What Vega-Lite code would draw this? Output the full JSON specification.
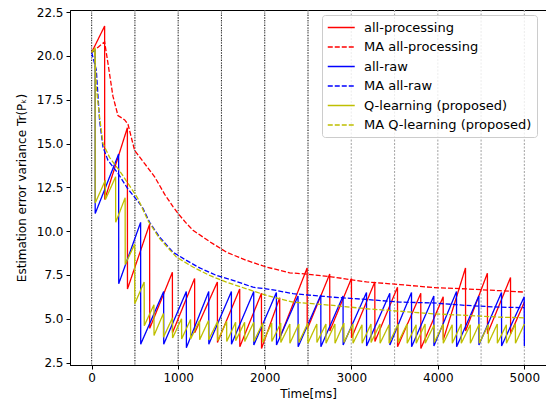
{
  "$schema": "https://vega.github.io/schema/vega-lite/v6.json",
  "width": 476,
  "height": 355,
  "autosize": {"type": "none"},
  "padding": {"left": 70, "top": 10, "right": 0, "bottom": 40},
  "config": {
    "font": "DejaVu Sans",
    "view": {"stroke": "black", "strokeWidth": 1},
    "axis": {"labelFont": "DejaVu Sans", "labelFontSize": 12, "labelColor": "black", "titleFont": "DejaVu Sans", "titleFontSize": 12, "titleColor": "black", "titleFontWeight": "normal", "domainColor": "black", "tickColor": "black", "tickSize": 4, "grid": false, "labelPadding": 3},
    "legend": {"orient": "none", "legendX": 252, "legendY": 5, "symbolType": "M-1,0H3", "symbolSize": 182, "symbolStrokeWidth": 1.5, "labelFont": "DejaVu Sans", "labelFontSize": 13, "labelColor": "black", "labelOffset": 22, "padding": 5, "rowPadding": 4.5, "fillColor": "rgba(255,255,255,0.8)", "strokeColor": "#cccccc", "cornerRadius": 3, "labelLimit": 300}
  },
  "datasets": {
    "vlines": [
      {"t": 0, "style": "black"}, {"t": 500, "style": "black"}, {"t": 1000, "style": "black"}, {"t": 1500, "style": "black"}, {"t": 2000, "style": "black"}, {"t": 2500, "style": "black"},
      {"t": 3000, "style": "grey"}, {"t": 3500, "style": "grey"}, {"t": 4000, "style": "grey"}, {"t": 4500, "style": "grey"}, {"t": 5000, "style": "grey"}
    ],
    "lines": [
      {"series": "all-processing", "t": 0, "v": 20.2}, {"series": "all-processing", "t": 150, "v": 21.7}, {"series": "all-processing", "t": 151, "v": 11.8},
      {"series": "all-processing", "t": 413, "v": 15.9}, {"series": "all-processing", "t": 414, "v": 6.7},
      {"series": "all-processing", "t": 670, "v": 10.4}, {"series": "all-processing", "t": 671, "v": 4.45},
      {"series": "all-processing", "t": 933, "v": 7.65}, {"series": "all-processing", "t": 934, "v": 4.2},
      {"series": "all-processing", "t": 1190, "v": 7.3}, {"series": "all-processing", "t": 1191, "v": 4.2},
      {"series": "all-processing", "t": 1453, "v": 7.1}, {"series": "all-processing", "t": 1454, "v": 3.65},
      {"series": "all-processing", "t": 1711, "v": 6.7}, {"series": "all-processing", "t": 1712, "v": 3.4},
      {"series": "all-processing", "t": 1962, "v": 6.45}, {"series": "all-processing", "t": 1963, "v": 3.3},
      {"series": "all-processing", "t": 2173, "v": 6.2}, {"series": "all-processing", "t": 2174, "v": 3.9},
      {"series": "all-processing", "t": 2490, "v": 7.9}, {"series": "all-processing", "t": 2491, "v": 4.4},
      {"series": "all-processing", "t": 2751, "v": 7.55}, {"series": "all-processing", "t": 2752, "v": 4.3},
      {"series": "all-processing", "t": 3002, "v": 7.3}, {"series": "all-processing", "t": 3003, "v": 3.9},
      {"series": "all-processing", "t": 3272, "v": 7.1}, {"series": "all-processing", "t": 3273, "v": 3.7},
      {"series": "all-processing", "t": 3534, "v": 6.8}, {"series": "all-processing", "t": 3535, "v": 3.4},
      {"series": "all-processing", "t": 3803, "v": 6.45}, {"series": "all-processing", "t": 3804, "v": 3.3},
      {"series": "all-processing", "t": 4062, "v": 6.25}, {"series": "all-processing", "t": 4063, "v": 3.8},
      {"series": "all-processing", "t": 4320, "v": 7.9}, {"series": "all-processing", "t": 4321, "v": 4.3},
      {"series": "all-processing", "t": 4573, "v": 7.6}, {"series": "all-processing", "t": 4574, "v": 4.15},
      {"series": "all-processing", "t": 4840, "v": 7.35}, {"series": "all-processing", "t": 4841, "v": 4.15},
      {"series": "all-processing", "t": 5000, "v": 5.95},

      {"series": "MA all-processing", "t": 0, "v": 20.2}, {"series": "MA all-processing", "t": 75, "v": 20.5}, {"series": "MA all-processing", "t": 150, "v": 20.8},
      {"series": "MA all-processing", "t": 188, "v": 19.6}, {"series": "MA all-processing", "t": 246, "v": 17.7}, {"series": "MA all-processing", "t": 304, "v": 16.6},
      {"series": "MA all-processing", "t": 382, "v": 16.35}, {"series": "MA all-processing", "t": 420, "v": 16.1}, {"series": "MA all-processing", "t": 497, "v": 14.6},
      {"series": "MA all-processing", "t": 613, "v": 13.85}, {"series": "MA all-processing", "t": 728, "v": 13.1}, {"series": "MA all-processing", "t": 844, "v": 12.1},
      {"series": "MA all-processing", "t": 940, "v": 11.4}, {"series": "MA all-processing", "t": 1000, "v": 11.0}, {"series": "MA all-processing", "t": 1085, "v": 10.5},
      {"series": "MA all-processing", "t": 1171, "v": 10.05}, {"series": "MA all-processing", "t": 1364, "v": 9.4}, {"series": "MA all-processing", "t": 1557, "v": 8.8},
      {"series": "MA all-processing", "t": 1789, "v": 8.33}, {"series": "MA all-processing", "t": 2020, "v": 7.95}, {"series": "MA all-processing", "t": 2289, "v": 7.62},
      {"series": "MA all-processing", "t": 2482, "v": 7.55}, {"series": "MA all-processing", "t": 2790, "v": 7.38}, {"series": "MA all-processing", "t": 3176, "v": 7.1},
      {"series": "MA all-processing", "t": 3561, "v": 6.95}, {"series": "MA all-processing", "t": 3946, "v": 6.78}, {"series": "MA all-processing", "t": 4332, "v": 6.7},
      {"series": "MA all-processing", "t": 4717, "v": 6.6}, {"series": "MA all-processing", "t": 5000, "v": 6.52},

      {"series": "all-raw", "t": 0, "v": 20.2}, {"series": "all-raw", "t": 40, "v": 20.3}, {"series": "all-raw", "t": 41, "v": 11.0},
      {"series": "all-raw", "t": 312, "v": 14.4}, {"series": "all-raw", "t": 313, "v": 7.0},
      {"series": "all-raw", "t": 566, "v": 10.5}, {"series": "all-raw", "t": 567, "v": 3.55},
      {"series": "all-raw", "t": 832, "v": 6.55}, {"series": "all-raw", "t": 833, "v": 3.55},
      {"series": "all-raw", "t": 1094, "v": 6.55}, {"series": "all-raw", "t": 1095, "v": 3.35},
      {"series": "all-raw", "t": 1353, "v": 6.55}, {"series": "all-raw", "t": 1354, "v": 3.55},
      {"series": "all-raw", "t": 1615, "v": 6.55}, {"series": "all-raw", "t": 1616, "v": 3.55},
      {"series": "all-raw", "t": 1873, "v": 6.55}, {"series": "all-raw", "t": 1874, "v": 3.5},
      {"series": "all-raw", "t": 2135, "v": 6.5}, {"series": "all-raw", "t": 2136, "v": 3.5},
      {"series": "all-raw", "t": 2385, "v": 6.3}, {"series": "all-raw", "t": 2386, "v": 3.4},
      {"series": "all-raw", "t": 2648, "v": 6.35}, {"series": "all-raw", "t": 2649, "v": 3.4},
      {"series": "all-raw", "t": 2905, "v": 6.3}, {"series": "all-raw", "t": 2906, "v": 3.5},
      {"series": "all-raw", "t": 3176, "v": 6.5}, {"series": "all-raw", "t": 3177, "v": 3.45},
      {"series": "all-raw", "t": 3445, "v": 6.45}, {"series": "all-raw", "t": 3446, "v": 3.5},
      {"series": "all-raw", "t": 3696, "v": 6.5}, {"series": "all-raw", "t": 3697, "v": 3.4},
      {"series": "all-raw", "t": 3954, "v": 6.3}, {"series": "all-raw", "t": 3955, "v": 3.45},
      {"series": "all-raw", "t": 4216, "v": 6.55}, {"series": "all-raw", "t": 4217, "v": 3.4},
      {"series": "all-raw", "t": 4474, "v": 6.3}, {"series": "all-raw", "t": 4475, "v": 3.5},
      {"series": "all-raw", "t": 4736, "v": 6.5}, {"series": "all-raw", "t": 4737, "v": 3.45},
      {"series": "all-raw", "t": 4998, "v": 6.25}, {"series": "all-raw", "t": 5000, "v": 3.45},

      {"series": "MA all-raw", "t": 0, "v": 20.2}, {"series": "MA all-raw", "t": 54, "v": 19.2}, {"series": "MA all-raw", "t": 92, "v": 16.3},
      {"series": "MA all-raw", "t": 131, "v": 14.8}, {"series": "MA all-raw", "t": 188, "v": 14.05}, {"series": "MA all-raw", "t": 304, "v": 13.3},
      {"series": "MA all-raw", "t": 420, "v": 12.4}, {"series": "MA all-raw", "t": 535, "v": 11.7}, {"series": "MA all-raw", "t": 593, "v": 11.3},
      {"series": "MA all-raw", "t": 670, "v": 10.5}, {"series": "MA all-raw", "t": 786, "v": 9.66}, {"series": "MA all-raw", "t": 940, "v": 8.8},
      {"series": "MA all-raw", "t": 1095, "v": 8.33}, {"series": "MA all-raw", "t": 1249, "v": 7.9}, {"series": "MA all-raw", "t": 1442, "v": 7.47},
      {"series": "MA all-raw", "t": 1633, "v": 7.19}, {"series": "MA all-raw", "t": 1865, "v": 6.8}, {"series": "MA all-raw", "t": 2096, "v": 6.65},
      {"series": "MA all-raw", "t": 2327, "v": 6.43}, {"series": "MA all-raw", "t": 2790, "v": 6.23}, {"series": "MA all-raw", "t": 3176, "v": 6.1},
      {"series": "MA all-raw", "t": 3561, "v": 5.95}, {"series": "MA all-raw", "t": 3946, "v": 5.9}, {"series": "MA all-raw", "t": 4332, "v": 5.76},
      {"series": "MA all-raw", "t": 4717, "v": 5.66}, {"series": "MA all-raw", "t": 5000, "v": 5.63},

      {"series": "Q-learning (proposed)", "t": 0, "v": 20.2}, {"series": "Q-learning (proposed)", "t": 40, "v": 20.4}, {"series": "Q-learning (proposed)", "t": 41, "v": 11.6},
      {"series": "Q-learning (proposed)", "t": 158, "v": 12.9}, {"series": "Q-learning (proposed)", "t": 159, "v": 11.8},
      {"series": "Q-learning (proposed)", "t": 277, "v": 13.1}, {"series": "Q-learning (proposed)", "t": 278, "v": 10.5},
      {"series": "Q-learning (proposed)", "t": 387, "v": 11.9}, {"series": "Q-learning (proposed)", "t": 388, "v": 8.1},
      {"series": "Q-learning (proposed)", "t": 497, "v": 9.25}, {"series": "Q-learning (proposed)", "t": 498, "v": 5.85},
      {"series": "Q-learning (proposed)", "t": 607, "v": 7.1}, {"series": "Q-learning (proposed)", "t": 608, "v": 4.6},
      {"series": "Q-learning (proposed)", "t": 720, "v": 5.8}, {"series": "Q-learning (proposed)", "t": 721, "v": 4.05},
      {"series": "Q-learning (proposed)", "t": 829, "v": 5.3}, {"series": "Q-learning (proposed)", "t": 830, "v": 3.95},
      {"series": "Q-learning (proposed)", "t": 934, "v": 5.05}, {"series": "Q-learning (proposed)", "t": 935, "v": 3.9},
      {"series": "Q-learning (proposed)", "t": 1039, "v": 5.0}, {"series": "Q-learning (proposed)", "t": 1040, "v": 3.85},
      {"series": "Q-learning (proposed)", "t": 1143, "v": 4.95}, {"series": "Q-learning (proposed)", "t": 1144, "v": 3.85},
      {"series": "Q-learning (proposed)", "t": 1247, "v": 4.9}, {"series": "Q-learning (proposed)", "t": 1248, "v": 3.8},
      {"series": "Q-learning (proposed)", "t": 1351, "v": 4.9}, {"series": "Q-learning (proposed)", "t": 1352, "v": 3.8},
      {"series": "Q-learning (proposed)", "t": 1456, "v": 4.85}, {"series": "Q-learning (proposed)", "t": 1457, "v": 3.75},
      {"series": "Q-learning (proposed)", "t": 1560, "v": 4.85}, {"series": "Q-learning (proposed)", "t": 1561, "v": 3.7},
      {"series": "Q-learning (proposed)", "t": 1664, "v": 4.8}, {"series": "Q-learning (proposed)", "t": 1665, "v": 3.75},
      {"series": "Q-learning (proposed)", "t": 1768, "v": 4.8}, {"series": "Q-learning (proposed)", "t": 1769, "v": 3.7},
      {"series": "Q-learning (proposed)", "t": 1873, "v": 4.8}, {"series": "Q-learning (proposed)", "t": 1874, "v": 3.7},
      {"series": "Q-learning (proposed)", "t": 1977, "v": 4.75}, {"series": "Q-learning (proposed)", "t": 1978, "v": 3.65},
      {"series": "Q-learning (proposed)", "t": 2081, "v": 4.75}, {"series": "Q-learning (proposed)", "t": 2082, "v": 3.7},
      {"series": "Q-learning (proposed)", "t": 2185, "v": 4.75}, {"series": "Q-learning (proposed)", "t": 2186, "v": 3.65},
      {"series": "Q-learning (proposed)", "t": 2290, "v": 4.7}, {"series": "Q-learning (proposed)", "t": 2291, "v": 3.6},
      {"series": "Q-learning (proposed)", "t": 2394, "v": 4.7}, {"series": "Q-learning (proposed)", "t": 2395, "v": 3.65},
      {"series": "Q-learning (proposed)", "t": 2498, "v": 4.75}, {"series": "Q-learning (proposed)", "t": 2499, "v": 3.6},
      {"series": "Q-learning (proposed)", "t": 2602, "v": 4.7}, {"series": "Q-learning (proposed)", "t": 2603, "v": 3.65},
      {"series": "Q-learning (proposed)", "t": 2707, "v": 4.7}, {"series": "Q-learning (proposed)", "t": 2708, "v": 3.6},
      {"series": "Q-learning (proposed)", "t": 2811, "v": 4.7}, {"series": "Q-learning (proposed)", "t": 2812, "v": 3.6},
      {"series": "Q-learning (proposed)", "t": 2915, "v": 4.75}, {"series": "Q-learning (proposed)", "t": 2916, "v": 3.65},
      {"series": "Q-learning (proposed)", "t": 3019, "v": 4.7}, {"series": "Q-learning (proposed)", "t": 3020, "v": 3.6},
      {"series": "Q-learning (proposed)", "t": 3124, "v": 4.65}, {"series": "Q-learning (proposed)", "t": 3125, "v": 3.6},
      {"series": "Q-learning (proposed)", "t": 3228, "v": 4.7}, {"series": "Q-learning (proposed)", "t": 3229, "v": 3.65},
      {"series": "Q-learning (proposed)", "t": 3332, "v": 4.7}, {"series": "Q-learning (proposed)", "t": 3333, "v": 3.6},
      {"series": "Q-learning (proposed)", "t": 3436, "v": 4.65}, {"series": "Q-learning (proposed)", "t": 3437, "v": 3.6},
      {"series": "Q-learning (proposed)", "t": 3541, "v": 4.7}, {"series": "Q-learning (proposed)", "t": 3542, "v": 3.65},
      {"series": "Q-learning (proposed)", "t": 3645, "v": 4.7}, {"series": "Q-learning (proposed)", "t": 3646, "v": 3.6},
      {"series": "Q-learning (proposed)", "t": 3749, "v": 4.65}, {"series": "Q-learning (proposed)", "t": 3750, "v": 3.6},
      {"series": "Q-learning (proposed)", "t": 3853, "v": 4.7}, {"series": "Q-learning (proposed)", "t": 3854, "v": 3.6},
      {"series": "Q-learning (proposed)", "t": 3958, "v": 4.65}, {"series": "Q-learning (proposed)", "t": 3959, "v": 3.65},
      {"series": "Q-learning (proposed)", "t": 4062, "v": 4.7}, {"series": "Q-learning (proposed)", "t": 4063, "v": 3.6},
      {"series": "Q-learning (proposed)", "t": 4166, "v": 4.65}, {"series": "Q-learning (proposed)", "t": 4167, "v": 3.6},
      {"series": "Q-learning (proposed)", "t": 4270, "v": 4.7}, {"series": "Q-learning (proposed)", "t": 4271, "v": 3.6},
      {"series": "Q-learning (proposed)", "t": 4375, "v": 4.65}, {"series": "Q-learning (proposed)", "t": 4376, "v": 3.6},
      {"series": "Q-learning (proposed)", "t": 4479, "v": 4.7}, {"series": "Q-learning (proposed)", "t": 4480, "v": 3.6},
      {"series": "Q-learning (proposed)", "t": 4583, "v": 4.65}, {"series": "Q-learning (proposed)", "t": 4584, "v": 3.6},
      {"series": "Q-learning (proposed)", "t": 4687, "v": 4.7}, {"series": "Q-learning (proposed)", "t": 4688, "v": 3.6},
      {"series": "Q-learning (proposed)", "t": 4792, "v": 4.65}, {"series": "Q-learning (proposed)", "t": 4793, "v": 3.6},
      {"series": "Q-learning (proposed)", "t": 4896, "v": 4.7}, {"series": "Q-learning (proposed)", "t": 4897, "v": 3.6},
      {"series": "Q-learning (proposed)", "t": 5000, "v": 4.7},

      {"series": "MA Q-learning (proposed)", "t": 0, "v": 20.2}, {"series": "MA Q-learning (proposed)", "t": 35, "v": 20.4}, {"series": "MA Q-learning (proposed)", "t": 54, "v": 18.2},
      {"series": "MA Q-learning (proposed)", "t": 92, "v": 16.5}, {"series": "MA Q-learning (proposed)", "t": 131, "v": 15.0}, {"series": "MA Q-learning (proposed)", "t": 208, "v": 14.2},
      {"series": "MA Q-learning (proposed)", "t": 343, "v": 13.3}, {"series": "MA Q-learning (proposed)", "t": 497, "v": 12.15}, {"series": "MA Q-learning (proposed)", "t": 535, "v": 11.85},
      {"series": "MA Q-learning (proposed)", "t": 651, "v": 10.6}, {"series": "MA Q-learning (proposed)", "t": 786, "v": 9.57}, {"series": "MA Q-learning (proposed)", "t": 979, "v": 8.52},
      {"series": "MA Q-learning (proposed)", "t": 1171, "v": 7.95}, {"series": "MA Q-learning (proposed)", "t": 1364, "v": 7.47}, {"series": "MA Q-learning (proposed)", "t": 1557, "v": 7.09},
      {"series": "MA Q-learning (proposed)", "t": 1789, "v": 6.71}, {"series": "MA Q-learning (proposed)", "t": 2020, "v": 6.33}, {"series": "MA Q-learning (proposed)", "t": 2327, "v": 5.95},
      {"series": "MA Q-learning (proposed)", "t": 2790, "v": 5.76}, {"series": "MA Q-learning (proposed)", "t": 3176, "v": 5.57}, {"series": "MA Q-learning (proposed)", "t": 3561, "v": 5.43},
      {"series": "MA Q-learning (proposed)", "t": 3946, "v": 5.28}, {"series": "MA Q-learning (proposed)", "t": 4332, "v": 5.19}, {"series": "MA Q-learning (proposed)", "t": 4717, "v": 5.09},
      {"series": "MA Q-learning (proposed)", "t": 5000, "v": 5.05}
    ]
  },
  "layer": [
    {
      "data": {"name": "vlines"},
      "mark": {"type": "rule", "color": "#aaaaaa", "strokeWidth": 1.1, "strokeDash": [2, 1.5]},
      "encoding": {"x": {"field": "t", "type": "quantitative", "scale": {"domain": [-250, 5250], "nice": false, "zero": false}}}
    },
    {
      "data": {"name": "vlines"},
      "transform": [{"filter": "datum.style == 'black'"}],
      "mark": {"type": "rule", "color": "#000000", "strokeWidth": 0.8, "strokeDash": [1, 1.5]},
      "encoding": {"x": {"field": "t", "type": "quantitative"}}
    },
    {
      "data": {"name": "lines"},
      "mark": {"type": "line", "strokeWidth": 1.3, "clip": true},
      "encoding": {
        "x": {"field": "t", "type": "quantitative", "scale": {"domain": [-250, 5250], "nice": false, "zero": false}, "axis": {"values": [0, 1000, 2000, 3000, 4000, 5000], "format": "d", "title": "Time[ms]", "titlePadding": 5}},
        "y": {"field": "v", "type": "quantitative", "scale": {"domain": [2.36, 22.62], "nice": false, "zero": false}, "axis": {"values": [2.5, 5, 7.5, 10, 12.5, 15, 17.5, 20, 22.5], "format": ".1f", "title": "Estimation error variance Tr(Pₖ)", "titlePadding": 8}},
        "color": {"field": "series", "type": "nominal", "scale": {"domain": ["all-processing", "MA all-processing", "all-raw", "MA all-raw", "Q-learning (proposed)", "MA Q-learning (proposed)"], "range": ["#ff0000", "#ff0000", "#0000ff", "#0000ff", "#bfbf00", "#bfbf00"]}, "legend": {"title": null}},
        "strokeDash": {"field": "series", "type": "nominal", "scale": {"domain": ["all-processing", "MA all-processing", "all-raw", "MA all-raw", "Q-learning (proposed)", "MA Q-learning (proposed)"], "range": [[1, 0], [5, 2], [1, 0], [5, 2], [1, 0], [5, 2]]}, "legend": {"title": null}}
      }
    }
  ]
}
